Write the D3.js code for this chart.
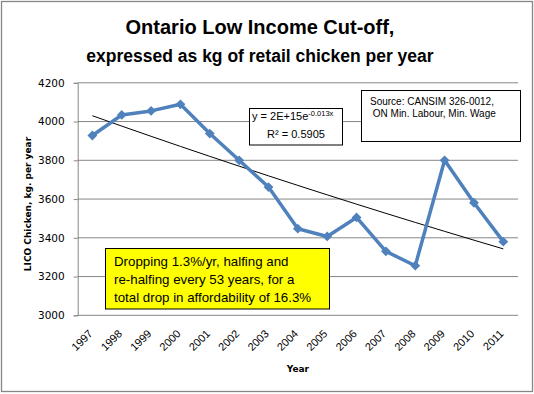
<!DOCTYPE html>
<html>
<head>
<meta charset="utf-8">
<script src="https://cdn.jsdelivr.net/npm/d3@7"></script>
<style>
  body { margin: 0; background: #fff; }
</style>
</head>
<body>
<div id="chart"></div>
<script>
// data
var years = ["1997","1998","1999","2000","2001","2002","2003","2004","2005","2006","2007","2008","2009","2010","2011"];
var lico = [3928, 4034, 4055, 4089, 3938, 3800, 3662, 3447, 3407, 3505, 3330, 3256, 3800, 3581, 3380];
var yTicks = [3000, 3200, 3400, 3600, 3800, 4000, 4200];
var titleLines = ["Ontario Low Income Cut-off,", "expressed as kg of retail chicken per year"];
var sourceLines = ["Source: CANSIM 326-0012,", " ON Min. Labour, Min. Wage"];
var noteLines = ["Dropping 1.3%/yr, halfing and", "re-halfing every 53 years, for a", "total drop in affordability of 16.3%"];

var width = 534, height = 394;
var plot = {left: 77.7, right: 518, top: 82.8, bottom: 315.3};

var svg = d3.select("#chart").append("svg")
    .attr("width", width)
    .attr("height", height);

// outer frame
svg.append("rect")
    .attr("x", 1.5).attr("y", 1.5)
    .attr("width", 531).attr("height", 390)
    .attr("fill", "#fff")
    .attr("stroke", "#868686")
    .attr("stroke-width", 1.3);

var x = d3.scaleBand()
    .domain(years)
    .range([plot.left, plot.right])
    .padding(0);

var y = d3.scaleLinear()
    .domain([3000, 4200])
    .range([plot.bottom, plot.top]);

var cx = function (yr) { return x(yr) + x.bandwidth() / 2; };

// gridlines + y axis
var yAxis = svg.append("g")
    .attr("transform", "translate(" + plot.left + ",0)")
    .call(d3.axisLeft(y).tickValues(yTicks).tickSize(4).tickPadding(9).tickFormat(d3.format("d")));
yAxis.select(".domain").attr("stroke", "#868686");
yAxis.selectAll("line").attr("stroke", "#868686");
yAxis.selectAll("text")
    .attr("font-family", "DejaVu Sans")
    .attr("font-size", "10.5px")
    .attr("fill", "#000");

svg.append("g").selectAll("line")
    .data(yTicks)
    .enter().append("line")
    .attr("x1", plot.left).attr("x2", plot.right)
    .attr("y1", function (d) { return y(d); })
    .attr("y2", function (d) { return y(d); })
    .attr("stroke", "#868686")
    .attr("stroke-width", 1);

// x axis, no tick marks, rotated labels
var xAxis = svg.append("g")
    .attr("transform", "translate(0," + plot.bottom + ")")
    .call(d3.axisBottom(x).tickSize(0).tickPadding(0));
xAxis.select(".domain").remove();
xAxis.selectAll("text")
    .attr("font-family", "Liberation Sans")
    .attr("font-size", "11px")
    .attr("fill", "#000")
    .attr("text-anchor", "end")
    .attr("dy", 0)
    .attr("transform", "translate(1,19) rotate(-45)");

// exponential trendline fitted to the series (least squares on ln y)
var xs = years.map(function (d) { return +d; });
var lx = d3.mean(xs), ly = d3.mean(lico, function (v) { return Math.log(v); });
var sxy = d3.sum(xs, function (v, i) { return (v - lx) * (Math.log(lico[i]) - ly); });
var sxx = d3.sum(xs, function (v) { return (v - lx) * (v - lx); });
var b = sxy / sxx, a = ly - b * lx;

svg.append("path")
    .datum(years)
    .attr("fill", "none")
    .attr("stroke", "#000")
    .attr("stroke-width", 1)
    .attr("d", d3.line()
        .x(function (d) { return cx(d); })
        .y(function (d) { return y(Math.exp(a + b * (+d))); }));

// data line
svg.append("path")
    .datum(lico)
    .attr("fill", "none")
    .attr("stroke", "#4F81BD")
    .attr("stroke-width", 3.5)
    .attr("stroke-linejoin", "round")
    .attr("d", d3.line()
        .x(function (d, i) { return cx(years[i]); })
        .y(function (d) { return y(d); }));

svg.append("g").selectAll("path")
    .data(lico)
    .enter().append("path")
    .attr("d", d3.symbol().type(d3.symbolSquare).size(48))
    .attr("transform", function (d, i) {
        return "translate(" + cx(years[i]) + "," + y(d) + ") rotate(45)";
    })
    .attr("fill", "#4F81BD");

// titles
svg.append("text")
    .text(titleLines[0])
    .attr("x", 260).attr("y", 34)
    .attr("text-anchor", "middle")
    .attr("font-family", "Liberation Sans")
    .attr("font-weight", "bold")
    .attr("font-size", "20px");
svg.append("text")
    .text(titleLines[1])
    .attr("x", 260).attr("y", 62)
    .attr("text-anchor", "middle")
    .attr("font-family", "Liberation Sans")
    .attr("font-weight", "bold")
    .attr("font-size", "17.5px");

// axis titles
svg.append("text")
    .text("LICO Chicken, kg. per year")
    .attr("transform", "translate(31," + ((plot.top + plot.bottom) / 2 + 5) + ") rotate(-90)")
    .attr("text-anchor", "middle")
    .attr("font-family", "DejaVu Sans")
    .attr("font-weight", "bold")
    .attr("font-size", "9px");
svg.append("text")
    .text("Year")
    .attr("x", (plot.left + plot.right) / 2)
    .attr("y", 371.5)
    .attr("text-anchor", "middle")
    .attr("font-family", "DejaVu Sans")
    .attr("font-weight", "bold")
    .attr("font-size", "9px");

// trendline equation box
svg.append("rect")
    .attr("x", 249.5).attr("y", 108.5)
    .attr("width", 93).attr("height", 36.5)
    .attr("fill", "#fff").attr("stroke", "#000").attr("stroke-width", 1);
var eq = svg.append("text")
    .attr("x", 252).attr("y", 119.5)
    .attr("font-family", "Liberation Sans")
    .attr("font-size", "11px");
eq.append("tspan").text("y = 2E+15e");
eq.append("tspan").text("-0.013x").attr("font-size", "7.5px").attr("dy", -4);
svg.append("text")
    .attr("x", 296).attr("y", 137.5)
    .attr("text-anchor", "middle")
    .attr("font-family", "Liberation Sans")
    .attr("font-size", "11px")
    .text("R\u00B2 = 0.5905");

// source box
svg.append("rect")
    .attr("x", 361.5).attr("y", 90.5)
    .attr("width", 159).attr("height", 51)
    .attr("fill", "#fff").attr("stroke", "#000").attr("stroke-width", 1);
svg.append("g").selectAll("text")
    .data(sourceLines)
    .enter().append("text")
    .attr("x", 370)
    .attr("y", function (d, i) { return 105 + i * 12; })
    .attr("xml:space", "preserve")
    .attr("font-family", "Liberation Sans")
    .attr("font-size", "10px")
    .text(function (d) { return d; });

// yellow note
svg.append("rect")
    .attr("x", 105.5).attr("y", 248.5)
    .attr("width", 224).attr("height", 60.5)
    .attr("fill", "#FFFF00").attr("stroke", "#000").attr("stroke-width", 1);
svg.append("g").selectAll("text")
    .data(noteLines)
    .enter().append("text")
    .attr("x", 114)
    .attr("y", function (d, i) { return 266 + i * 18; })
    .attr("font-family", "Liberation Sans")
    .attr("font-size", "13.3px")
    .text(function (d) { return d; });
</script>
</body>
</html>
